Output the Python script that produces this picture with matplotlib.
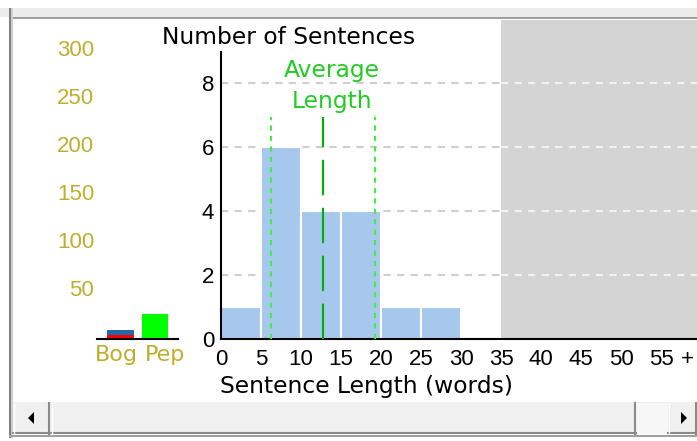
import matplotlib
matplotlib.use('Agg')
import matplotlib.pyplot as plt
from matplotlib.patches import Rectangle, Polygon
from matplotlib.transforms import ScaledTranslation

plt.rcParams['font.family'] = ['Liberation Sans', 'DejaVu Sans']

# histogram of sentence lengths (bins of 5 words)
bin_edges = [0, 5, 10, 15, 20, 25, 30]
bin_counts = [1, 6, 4, 4, 1, 1, 0]
x_tick_pos = [0, 5, 10, 15, 20, 25, 30, 35, 40, 45, 50, 55, 58.3]
x_tick_labels = ['0', '5', '10', '15', '20', '25', '30', '35', '40', '45', '50', '55', '+']
y_ticks = [0, 2, 4, 6, 8]
avg_length = 12.8
std_length = 6.5
max_len_shown = 35

# small comparison chart on the left
mini_names = ['Bog', 'Pep']
mini_label_pos = [-0.13, 1.29]
bog_red = 4
bog_blue = 5
pep_green = 26
mini_ticks = [50, 100, 150, 200, 250, 300]

W, H = 697, 441
FS = 16
FS_WORDS = 16.8
word_font = 'DejaVu Sans'
olive = '#bfae2e'

fig = plt.figure(figsize=(W / 100, H / 100), dpi=100)

def fx(x):
    return x / W

def fy(y):
    return 1 - y / H

# window chrome (pixel coords)
bg = fig.add_axes([0, 0, 1, 1])
bg.set_xlim(0, W)
bg.set_ylim(H, 0)
bg.axis('off')
bg.set_zorder(-5)
bg.add_patch(Rectangle((0, 8), W, 9, color='#ececec', lw=0))
bg.add_patch(Rectangle((9, 17), W, 2, color='#a0a0a0', lw=0))
bg.add_patch(Rectangle((9, 8), 2, 430, color='#7f7f7f', lw=0))
bg.add_patch(Rectangle((11, 8), 2, 430, color='#d0d0d0', lw=0))
# scrollbar
bg.add_patch(Rectangle((13, 402), W - 13, 32, color='#f0f0f0', lw=0))
bg.add_patch(Rectangle((636, 403), 32, 31, color='#f7f7f7', lw=0))
for x0, x1 in [(13, 50), (51, 636), (668, 697)]:
    bg.add_patch(Rectangle((x0, 403), x1 - x0, 31, facecolor='#f0f0f0',
                           edgecolor='none'))
    bg.plot([x1 - 1, x1 - 1], [403, 434], color='#8a8a8a', lw=1.5)
    bg.plot([x0, x1], [433, 433], color='#8a8a8a', lw=1.5)
    bg.plot([x0 + 1, x0 + 1], [403, 433], color='#ffffff', lw=1)
bg.add_patch(Polygon([[28, 418], [34, 412], [34, 424]], color='black', lw=0))
bg.add_patch(Polygon([[687, 418], [681, 412], [681, 424]], color='black', lw=0))
bg.add_patch(Rectangle((9, 435), W, 2, color='#a0a0a0', lw=0))

# main histogram
ax = fig.add_axes([fx(221), fy(339), 476 / W, 319 / H])
ax.patch.set_alpha(0)
ax.set_xlim(0, 476 / 8)
ax.set_ylim(0, 319 / 32)
ax.axvspan(max_len_shown, 60, color='#d4d4d4', lw=0, zorder=0)
for yv in y_ticks[1:]:
    ax.plot([0, max_len_shown], [yv, yv], color='#cfcfcf', lw=1.5,
            ls=(0, (3.5, 3)), zorder=1)
    ax.plot([max_len_shown, 60], [yv, yv], color='#f2f2f2', lw=1.5,
            ls=(0, (3.5, 3)), zorder=1)
ax.bar(bin_edges, bin_counts, width=5, align='edge', color='#a7c8ed',
       edgecolor='white', lw=1.5, zorder=2)
ax.plot([avg_length, avg_length], [0, 6.94], color='#00b000', lw=1.5,
        ls=(0, (17, 6)), zorder=3)
for xs in [avg_length - std_length, avg_length + std_length]:
    ax.plot([xs, xs], [0, 6.94], color='#40f040', lw=1.5, ls=(0, (2.5, 2.5)),
            zorder=3)
for s in ['top', 'right']:
    ax.spines[s].set_visible(False)
ax.spines['left'].set_bounds(0, 8.97)
ax.spines['left'].set_linewidth(1.5)
ax.spines['bottom'].set_linewidth(1.5)
ax.set_yticks(y_ticks)
ax.set_xticks(x_tick_pos)
ax.set_xticklabels(x_tick_labels)
ax.tick_params(length=0, labelsize=FS)
ax.tick_params(axis='y', pad=5)
ax.tick_params(axis='x', pad=7)

fig.text(fx(289), fy(37), 'Number of Sentences', ha='center', va='center',
         fontsize=FS_WORDS, family=word_font)
fig.text(fx(367), fy(387), 'Sentence Length (words)', ha='center',
         va='center', fontsize=FS_WORDS, family=word_font)
fig.text(fx(332), fy(86), 'Average\nLength', ha='center', va='center',
         fontsize=FS_WORDS, color='#22cc22', linespacing=1.4,
         family=word_font)

# small chart
ax2 = fig.add_axes([fx(97), fy(339), 81 / W, 319 / H])
ax2.patch.set_alpha(0)
ax2.set_xlim(-0.68, 1.67)
ax2.set_ylim(0, 319 / 0.96)
ax2.bar([0], [bog_red], width=0.78, color='#ff0000', lw=0)
ax2.bar([0], [bog_blue], bottom=[bog_red], width=0.78, color='#2468a8',
        lw=0)
ax2.bar([1], [pep_green], width=0.76, color='#00ff00', lw=0)
for s in ['top', 'right', 'left']:
    ax2.spines[s].set_visible(False)
ax2.spines['bottom'].set_linewidth(1.5)
ax2.set_yticks(mini_ticks)
ax2.set_xticks(mini_label_pos)
ax2.set_xticklabels(mini_names, family=word_font)
ax2.tick_params(length=0, labelsize=FS, labelcolor=olive)
ax2.tick_params(axis='y', pad=2)
ax2.tick_params(axis='x', pad=4)
up = ScaledTranslation(0, 3 / 100, fig.dpi_scale_trans)
for lab in ax2.get_yticklabels():
    lab.set_transform(lab.get_transform() + up)

fig.savefig('out.png', dpi=100)
